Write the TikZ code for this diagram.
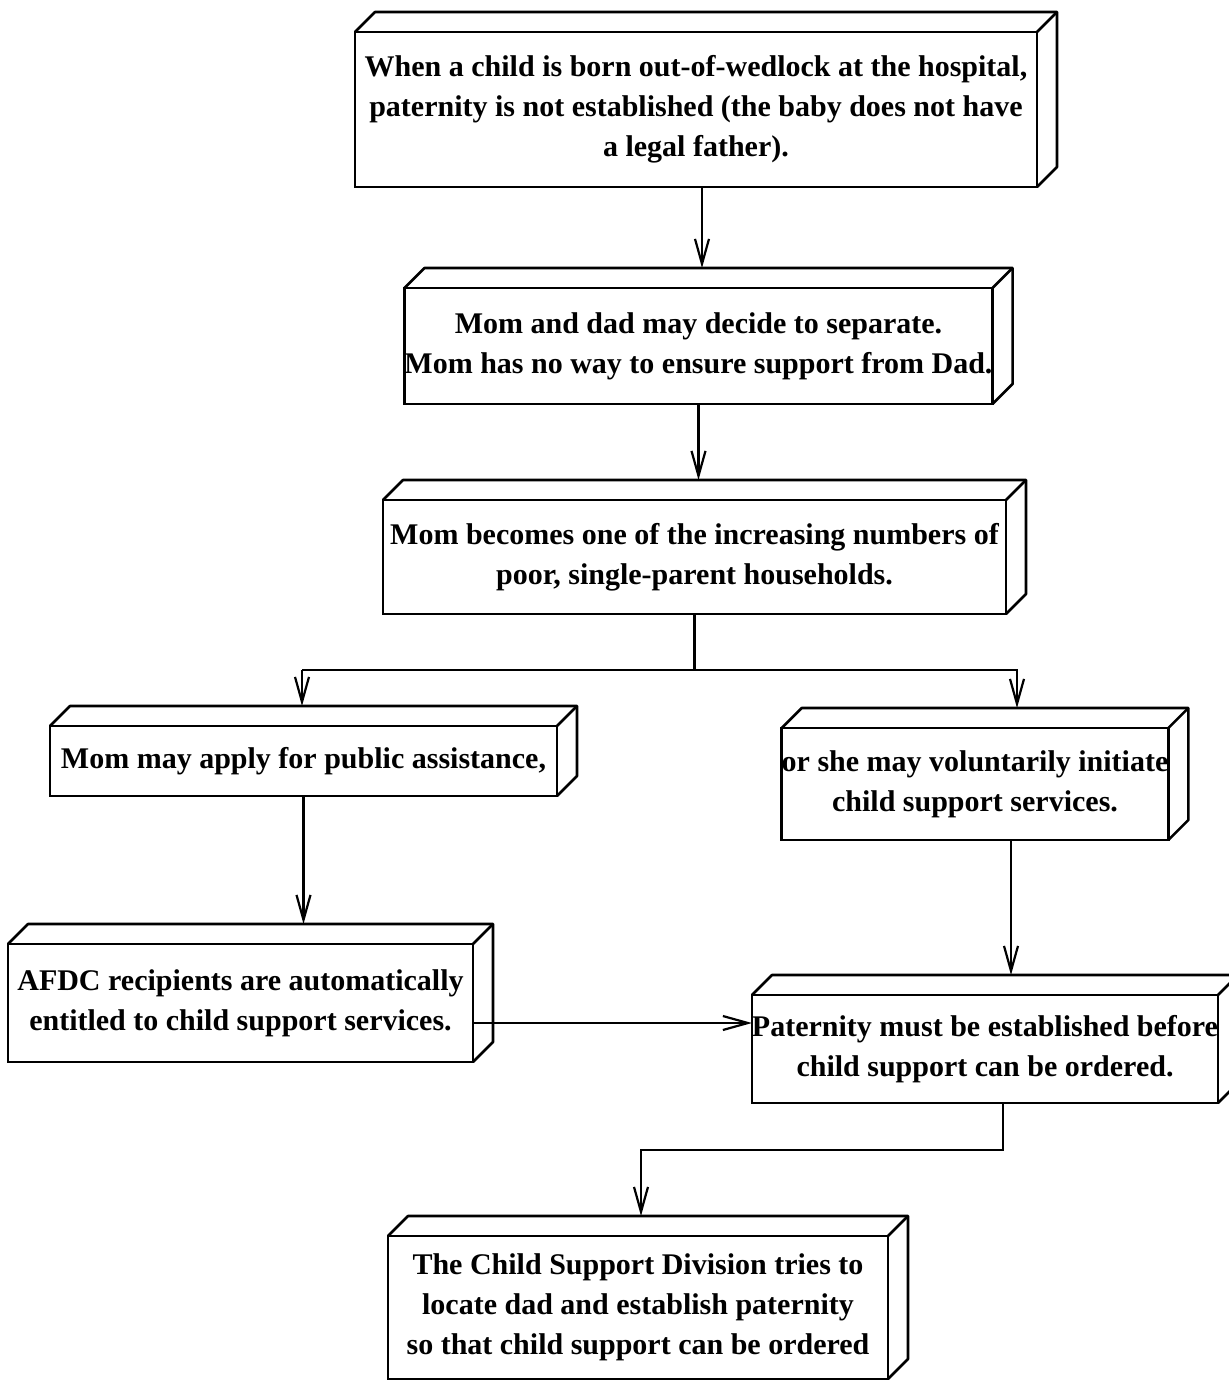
\documentclass[tikz,border=0pt]{standalone}
\usepackage{fontspec}
\setmainfont{Liberation Serif}
\usetikzlibrary{arrows.meta}

\tikzset{
  cube/.style={draw, line width=1.3pt, fill=white, align=center, inner sep=0pt, outer sep=0pt,
    font=\fontsize{15}{20}\selectfont\bfseries},
  arr/.style={line width=1.1pt, -{Straight Barb[length=12.5pt,width=7pt,line width=1.1pt]}},
}
% top and side faces of a box node
\newcommand{\cubefaces}[1]{%
  \draw[line width=1.3pt, line join=round] (#1.north west) -- ++(10pt,10pt)
    -- ([shift={(10pt,10pt)}]#1.north east) -- ([shift={(10pt,10pt)}]#1.south east) -- (#1.south east);
  \draw[line width=1.3pt] (#1.north east) -- ++(10pt,10pt);
  \coordinate (#1t) at ([shift={(10pt,10pt)}]#1.north);
}

\begin{document}
\begin{tikzpicture}[x=0.5pt, y=-0.5pt]
    \useasboundingbox (0,0) rectangle (1229,1382);
    % boxes
    \node[cube, minimum width=341pt, minimum height=77.5pt] (b1) at (696,109.5)
        {When a child is born out-of-wedlock at the hospital,\\ paternity is not established (the baby does not have\\ a legal father).};
    \node[cube, minimum width=289.5pt, minimum height=58pt] (b2) at (698.5,346)
        {Mom and dad may decide to separate.\\ Mom has no way to ensure support from Dad.};
    \node[cube, minimum width=311.5pt, minimum height=57pt] (b3) at (694.5,557)
        {Mom becomes one of the increasing numbers of\\ poor, single-parent households.};
    \node[cube, minimum width=253.5pt, minimum height=35pt] (b4) at (303.5,761)
        {Mom may apply for public assistance,};
    \node[cube, minimum width=192pt, minimum height=56pt] (b5) at (975,784)
        {or she may voluntarily initiate\\ child support services.};
    \node[cube, minimum width=232.5pt, minimum height=59pt] (b6) at (240.5,1003)
        {AFDC recipients are automatically\\ entitled to child support services.};
    \node[cube, minimum width=227pt, minimum height=54pt] (b7) at (985,1049)
        {Paternity must be established before\\ child support can be ordered.};
    \node[cube, minimum width=250pt, minimum height=71.5pt] (b8) at (638,1307.5)
        {The Child Support Division tries to\\ locate dad and establish paternity\\ so that child support can be ordered};
    \foreach \b in {b1,b2,b3,b4,b5,b6,b7,b8} {\cubefaces{\b}}

    % connectors
    \coordinate (j1) at (302,670);
    \coordinate (j2) at (1017,670);
    \coordinate (j3) at (641,1150);
    \draw[arr] ([xshift=3pt]b1.south) -- ([xshift=3pt]b1.south |- b2t);
    \draw[arr] (b2.south) -- (b2.south |- b3t);
    \draw[line width=1.1pt] (b3.south) -- (b3.south |- j1);
    \draw[arr] (j1) -- (j1 |- b4t);
    \draw[arr] (j1) -- (j2) -- (j2 |- b5t);
    \draw[arr] (b4.south) -- (b4.south |- b6t);
    \draw[arr] ([xshift=18pt]b5.south) -- ([xshift=18pt]b5.south |- b7t);
    \draw[arr] ([yshift=-10pt]b6.east) -- ([yshift=-10pt]b6.east -| b7.west);
    \draw[arr] ([xshift=9pt]b7.south) |- (j3) -- (j3 |- b8t);
\end{tikzpicture}
\end{document}
